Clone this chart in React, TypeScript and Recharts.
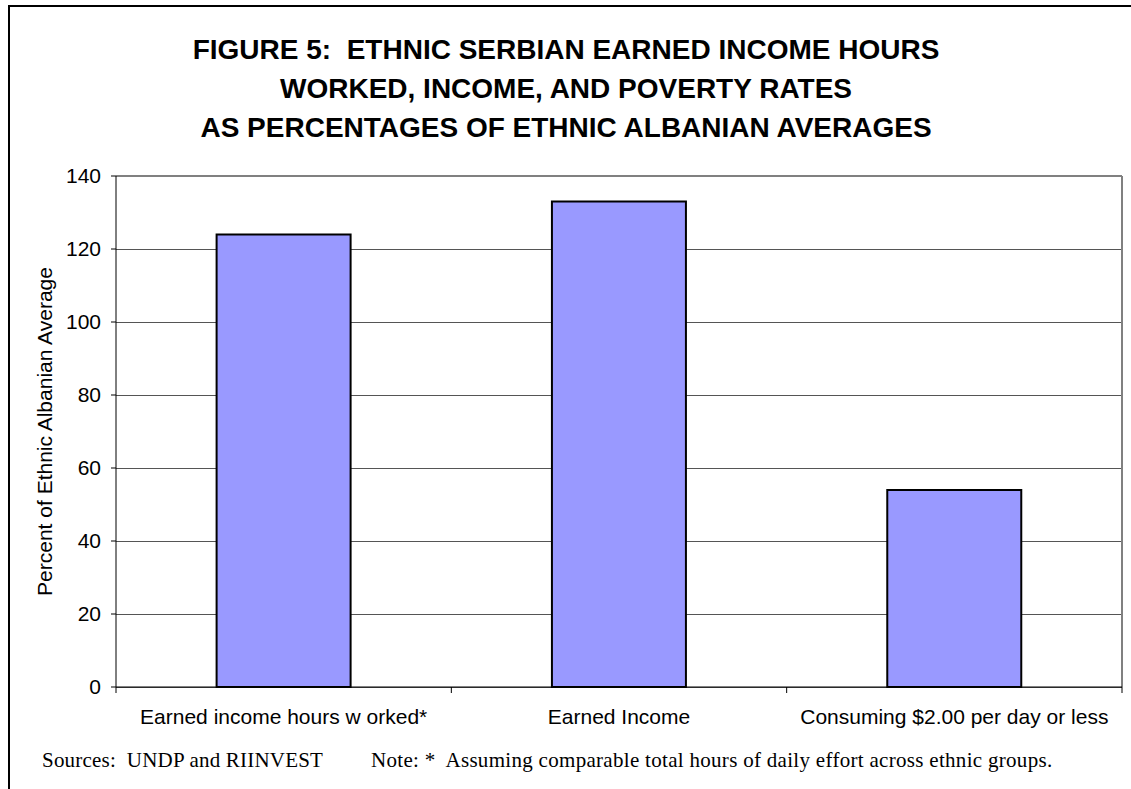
import React from 'react';
import { BarChart, Bar, XAxis, YAxis, CartesianGrid, ReferenceLine } from 'recharts';

const categories = [
  'Earned income hours w orked*',
  'Earned Income',
  'Consuming $2.00 per day or less',
];
const values = [124, 133, 54];
const yTicks = [0, 20, 40, 60, 80, 100, 120, 140];
const edgeTicks = [0, 1, 2, 3];

const titleLines = [
  'FIGURE 5:  ETHNIC SERBIAN EARNED INCOME HOURS',
  'WORKED, INCOME, AND POVERTY RATES',
  'AS PERCENTAGES OF ETHNIC ALBANIAN AVERAGES',
];

const data = categories.map((name, i) => ({ name, value: values[i], pos: i + 0.5 }));

const sans = '"Liberation Sans", Arial, sans-serif';
const serif = '"Liberation Serif", "Times New Roman", serif';

const NoTick = () => <g />;

export default function App() {
  return (
    <div
      style={{
        position: 'fixed',
        left: 0,
        top: 0,
        width: 1131,
        height: 789,
        background: '#fff',
        overflow: 'hidden',
      }}
    >
      {/* open frame: top and left edges only */}
      <div
        style={{
          position: 'absolute',
          left: 8,
          top: 5,
          width: 1300,
          height: 900,
          borderTop: '2px solid #000',
          borderLeft: '2px solid #000',
        }}
      />

      <div
        style={{
          position: 'absolute',
          left: 0,
          top: 30,
          width: 1132,
          textAlign: 'center',
          fontFamily: sans,
          fontWeight: 'bold',
          fontSize: 28,
          lineHeight: '39px',
          whiteSpace: 'pre',
          color: '#000',
        }}
      >
        {titleLines.map((t) => (
          <div key={t}>{t}</div>
        ))}
      </div>

      <div style={{ position: 'absolute', left: 0, top: 0 }}>
        <BarChart
          width={1131}
          height={789}
          data={data}
          margin={{ top: 176, right: 9, left: 58, bottom: 61 }}
          barCategoryGap="30%"
        >
          <CartesianGrid
            xAxisId="b"
            vertical={false}
            stroke="#555"
            strokeWidth={1}
            shapeRendering="crispEdges"
          />
          {/* category-boundary ticks and the bottom axis line */}
          <XAxis
            xAxisId="a"
            type="number"
            dataKey="pos"
            domain={[0, 3]}
            ticks={edgeTicks}
            height={1}
            tick={<NoTick />}
            axisLine={{ stroke: '#000' }}
            tickLine={{ stroke: '#000' }}
            tickSize={6}
          />
          <XAxis
            xAxisId="b"
            dataKey="name"
            height={40}
            axisLine={false}
            tickLine={false}
            tickSize={0}
            tickMargin={21}
            interval={0}
            tick={{ fill: '#000', fontFamily: sans, fontSize: 21 }}
          />
          <YAxis
            width={58}
            domain={[0, 140]}
            ticks={yTicks}
            interval={0}
            axisLine={{ stroke: '#000' }}
            tickLine={{ stroke: '#000' }}
            tickSize={5}
            tickMargin={10}
            tick={{ fill: '#000', fontFamily: sans, fontSize: 21 }}
            label={{
              value: 'Percent of Ethnic Albanian Average',
              angle: -90,
              position: 'left',
              offset: 13,
              style: { fill: '#000', fontFamily: sans, fontSize: 21, textAnchor: 'middle' },
            }}
          />
          <ReferenceLine xAxisId="b" y={140} stroke="#808080" strokeWidth={2} />
          <ReferenceLine xAxisId="a" x={3} stroke="#808080" strokeWidth={2} />
          <Bar
            xAxisId="b"
            dataKey="value"
            fill="#9999FF"
            stroke="#000"
            strokeWidth={2}
            isAnimationActive={false}
          />
        </BarChart>
      </div>

      <div
        style={{
          position: 'absolute',
          left: 42,
          top: 748,
          fontFamily: serif,
          fontSize: 21,
          letterSpacing: 0.2,
          whiteSpace: 'pre',
          color: '#000',
        }}
      >
        Sources:  UNDP and RIINVEST
      </div>
      <div
        style={{
          position: 'absolute',
          left: 371,
          top: 748,
          fontFamily: serif,
          fontSize: 21,
          letterSpacing: 0.3,
          whiteSpace: 'pre',
          color: '#000',
        }}
      >
        Note: *  Assuming comparable total hours of daily effort across ethnic groups.
      </div>
    </div>
  );
}
